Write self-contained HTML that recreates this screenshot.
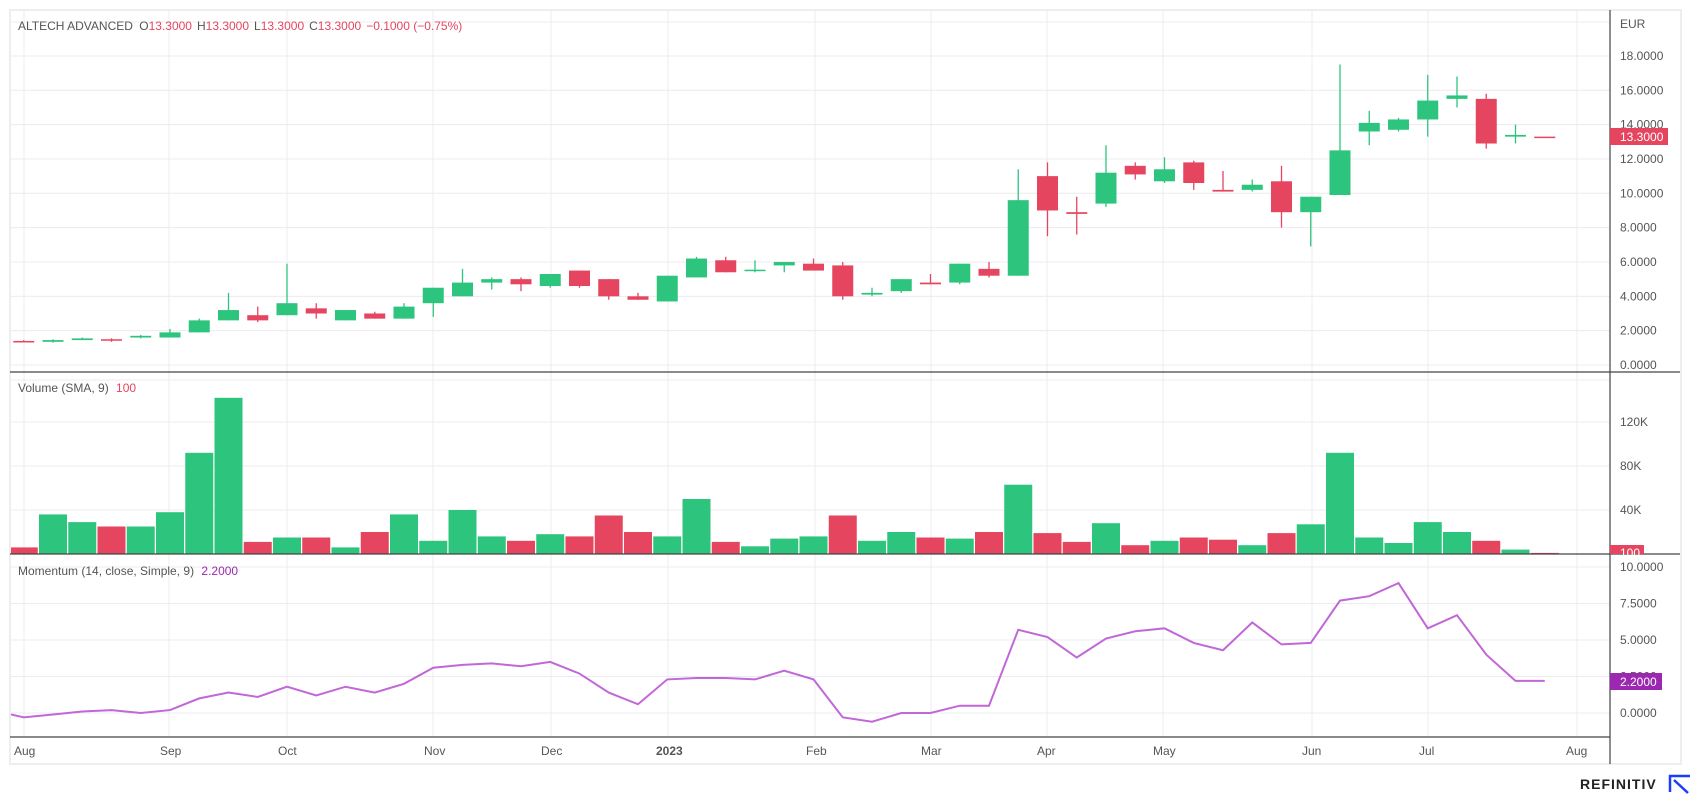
<!DOCTYPE html>
<html><head><meta charset="utf-8"><style>
html,body{margin:0;padding:0;background:#fff;width:1690px;height:794px;overflow:hidden}
svg{display:block;font-family:"Liberation Sans",sans-serif}
</style></head><body>
<svg id="s" width="1690" height="794" xmlns="http://www.w3.org/2000/svg"></svg>
<script>
const s=document.getElementById('s');let h='';
const G='#2dc57e',R='#e5455f';
h+='<rect x="10" y="10" width="1671" height="754" fill="#fff" stroke="#eceef2" stroke-width="2"/>';
const vx=[24,169,287,433,551,668,815,931,1047,1163,1312,1428,1577];
vx.forEach(x=>h+=`<line x1="${x}" y1="11" x2="${x}" y2="737" stroke="#ececf0"/>`);
const py=p=>365-p*17.17;
for(let p=0;p<=18;p+=2)h+=`<line x1="11" y1="${py(p)}" x2="1610" y2="${py(p)}" stroke="#ececf0"/>`;
h+=`<line x1="11" y1="22" x2="1610" y2="22" stroke="#ececf0"/>`;
const vy=v=>554-v*1.1;
[40,80,120].forEach(v=>h+=`<line x1="11" y1="${vy(v)}" x2="1610" y2="${vy(v)}" stroke="#ececf0"/>`);
h+=`<line x1="11" y1="380" x2="1610" y2="380" stroke="#ececf0"/>`;
const my=v=>713-v*14.6;
[0,2.5,5,7.5,10].forEach(v=>h+=`<line x1="11" y1="${my(v)}" x2="1610" y2="${my(v)}" stroke="#ececf0"/>`);
const C=[[0,1.4,1.38,1.45,1.35],[1,1.35,1.45,1.5,1.3],[1,1.45,1.55,1.6,1.45],[0,1.5,1.45,1.55,1.35],[1,1.6,1.7,1.75,1.55],[1,1.6,1.9,2.1,1.6],[1,1.9,2.6,2.7,1.9],[1,2.6,3.2,4.2,2.6],[0,2.9,2.6,3.4,2.5],[1,2.9,3.6,5.9,2.9],[0,3.3,3.0,3.6,2.7],[1,2.6,3.2,3.2,2.6],[0,3.0,2.7,3.1,2.7],[1,2.7,3.4,3.6,2.7],[1,3.6,4.5,4.5,2.8],[1,4.0,4.8,5.6,4.0],[1,4.8,5.0,5.1,4.4],[0,5.0,4.7,5.1,4.3],[1,4.6,5.3,5.3,4.5],[0,5.5,4.6,5.5,4.5],[0,5.0,4.0,5.0,3.8],[0,4.0,3.8,4.2,3.8],[1,3.7,5.2,5.2,3.7],[1,5.1,6.2,6.3,5.1],[0,6.1,5.4,6.3,5.4],[1,5.5,5.55,6.1,5.4],[1,5.8,6.0,6.0,5.4],[0,5.9,5.5,6.2,5.5],[0,5.8,4.0,6.0,3.8],[1,4.1,4.2,4.5,4.0],[1,4.3,5.0,5.0,4.2],[0,4.8,4.7,5.3,4.7],[1,4.8,5.9,5.9,4.7],[0,5.6,5.2,6.0,5.1],[1,5.2,9.6,11.4,5.2],[0,11.0,9.0,11.8,7.5],[0,8.9,8.8,9.8,7.6],[1,9.4,11.2,12.8,9.2],[0,11.6,11.1,11.8,10.8],[1,10.7,11.4,12.1,10.6],[0,11.8,10.6,11.9,10.2],[0,10.2,10.1,11.3,10.1],[1,10.2,10.5,10.8,10.1],[0,10.7,8.9,11.6,8.0],[1,8.9,9.8,9.8,6.9],[1,9.9,12.5,17.5,9.9],[1,13.6,14.1,14.8,12.8],[1,13.7,14.3,14.4,13.6],[1,14.3,15.4,16.9,13.3],[1,15.5,15.7,16.8,15.0],[0,15.5,12.9,15.8,12.6],[1,13.3,13.4,14.0,12.9],[0,13.3,13.28,13.3,13.3]];
const V=[6,36,29,25,25,38,92,142,11,15,15,6,20,36,12,40,16,12,18,16,35,20,16,50,11,7,14,16,35,12,20,15,14,20,63,19,11,28,8,12,15,13,8,19,27,92,15,10,29,20,12,4,1];
const VC=[0,1,1,0,1,1,1,1,0,1,0,1,0,1,1,1,1,0,1,0,0,0,1,1,0,1,1,1,0,1,1,0,1,0,1,0,0,1,0,1,0,0,1,0,1,1,1,1,1,1,0,1,0];
const M=[-0.3,-0.1,0.1,0.2,0.0,0.2,1.0,1.4,1.1,1.8,1.2,1.8,1.4,2.0,3.1,3.3,3.4,3.2,3.5,2.7,1.4,0.6,2.3,2.4,2.4,2.3,2.9,2.3,-0.3,-0.6,0.0,0.0,0.5,0.5,5.7,5.2,3.8,5.1,5.6,5.8,4.8,4.3,6.2,4.7,4.8,7.7,8.0,8.9,5.8,6.7,4.0,2.2,2.2];
const X=i=>23.75+i*29.25;
V.forEach((v,i)=>{let x=X(i)-14,w=28;if(x<11){w-=11-x;x=11;}h+=`<rect x="${x}" y="${vy(v)}" width="${w}" height="${v*1.1}" fill="${VC[i]?G:R}"/>`;});
C.forEach((c,i)=>{const col=c[0]?G:R,x=X(i);const t=py(Math.max(c[1],c[2])),b=py(Math.min(c[1],c[2]));
h+=`<line x1="${x}" y1="${py(c[3])}" x2="${x}" y2="${py(c[4])}" stroke="${col}" stroke-width="1.3"/>`;
h+=`<rect x="${x-10.5}" y="${t}" width="21" height="${Math.max(b-t,1.5)}" fill="${col}"/>`;});
let pts='11,'+my(-0.1)+' '+M.map((v,i)=>X(i)+','+my(v)).join(' ');
h+=`<polyline points="${pts}" fill="none" stroke="#c167d8" stroke-width="2"/>`;
h+=`<line x1="1610" y1="10" x2="1610" y2="764" stroke="#444" stroke-width="1.2"/>`;
h+=`<line x1="10" y1="372" x2="1680" y2="372" stroke="#444" stroke-width="1.2"/>`;
h+=`<line x1="10" y1="554" x2="1680" y2="554" stroke="#444" stroke-width="1.2"/>`;
h+=`<line x1="10" y1="737" x2="1610" y2="737" stroke="#444" stroke-width="1.2"/>`;
const T='font-size="12" fill="#555"';
h+=`<text x="1620" y="28" ${T}>EUR</text>`;
for(let p=0;p<=18;p+=2)h+=`<text x="1620" y="${py(p)+4}" ${T}>${p.toFixed(4)}</text>`;
[[40,'40K'],[80,'80K'],[120,'120K']].forEach(a=>h+=`<text x="1620" y="${vy(a[0])+4}" ${T}>${a[1]}</text>`);
[0,2.5,5,7.5,10].forEach(v=>h+=`<text x="1620" y="${my(v)+4}" ${T}>${v.toFixed(4)}</text>`);
h+=`<rect x="1610" y="128" width="58" height="17" fill="${R}"/><text x="1620" y="141" font-size="12" fill="#fff">13.3000</text>`;
h+=`<rect x="1610" y="545" width="34" height="9" fill="${R}"/><text x="1620" y="557" font-size="12" fill="#fff">100</text>`;
h+=`<rect x="1610" y="673" width="52" height="17" fill="#9c27b0"/><text x="1620" y="686" font-size="12" fill="#fff">2.2000</text>`;
const ml=[[14,'Aug'],[160,'Sep'],[278,'Oct'],[424,'Nov'],[541,'Dec'],[656,'2023'],[806,'Feb'],[921,'Mar'],[1037,'Apr'],[1153,'May'],[1302,'Jun'],[1419,'Jul'],[1566,'Aug']];
ml.forEach(m=>h+=`<text x="${m[0]}" y="755" ${T}${m[1]=='2023'?' font-weight="bold"':''}>${m[1]}</text>`);
h+=`<text x="18" y="30" font-size="12" fill="#555">ALTECH ADVANCED <tspan dx="3">O</tspan><tspan fill="${R}">13.3000</tspan><tspan dx="5">H</tspan><tspan fill="${R}">13.3000</tspan><tspan dx="5">L</tspan><tspan fill="${R}">13.3000</tspan><tspan dx="5">C</tspan><tspan fill="${R}">13.3000</tspan><tspan dx="5" fill="${R}">−0.1000 (−0.75%)</tspan></text>`;
h+=`<text x="18" y="392" font-size="12" fill="#555">Volume (SMA, 9) <tspan dx="4" fill="${R}">100</tspan></text>`;
h+=`<text x="18" y="575" font-size="12" fill="#555">Momentum (14, close, Simple, 9) <tspan dx="4" fill="#9c27b0">2.2000</tspan></text>`;
h+=`<text x="1580" y="789" font-size="14" font-weight="bold" fill="#222" letter-spacing="1">REFINITIV</text>`;
h+=`<path d="M1670 792 V776 H1690 M1674 780 L1688 793" stroke="#1a3cff" stroke-width="2.5" fill="none"/>`;
s.innerHTML=h;
</script>
</body></html>
